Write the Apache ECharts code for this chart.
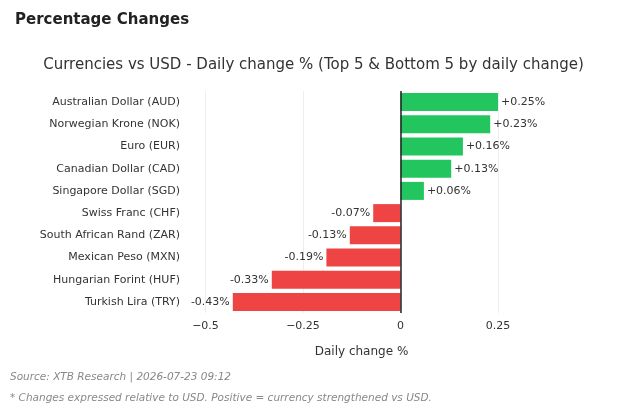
<!DOCTYPE html>
<html><head><meta charset="utf-8">
<script src="https://cdn.jsdelivr.net/npm/echarts@6/dist/echarts.min.js"></script>
<style>html,body{margin:0;padding:0;background:#fff;}#c{width:627px;height:415px;}</style>
</head><body><div id="c"></div>
<script>
const categories = ["Australian Dollar (AUD)","Norwegian Krone (NOK)","Euro (EUR)","Canadian Dollar (CAD)","Singapore Dollar (SGD)","Swiss Franc (CHF)","South African Rand (ZAR)","Mexican Peso (MXN)","Hungarian Forint (HUF)","Turkish Lira (TRY)"];
const values = [0.25,0.23,0.16,0.13,0.06,-0.07,-0.13,-0.19,-0.33,-0.43];
const tickValues = [-0.5,-0.25,0,0.25];
const chart = echarts.init(document.getElementById('c'));
const font = "'DejaVu Sans', Verdana, sans-serif";
chart.setOption({
  animation:false,
  textStyle:{fontFamily:font},
  title:[
    {text:"Percentage Changes",left:10,top:8,textStyle:{fontSize:15,fontWeight:'bold',color:'#222',fontFamily:font}},
    {text:"Currencies vs USD - Daily change % (Top 5 & Bottom 5 by daily change)",left:'center',top:53,textStyle:{fontSize:15,fontWeight:'normal',color:'#333',fontFamily:font}}
  ],
  graphic:[
    {type:'text',left:10,top:372,style:{text:"Source: XTB Research | 2026-07-23 09:12",fill:'#888',fontSize:10.5,fontStyle:'italic',fontFamily:font}},
    {type:'text',left:10,top:393,style:{text:"* Changes expressed relative to USD. Positive = currency strengthened vs USD.",fill:'#888',fontSize:10.5,fontStyle:'italic',fontFamily:font}}
  ],
  grid:{left:186,right:90,top:91,bottom:102},
  xAxis:{type:'value',min:-0.55,max:0.35,
    name:'Daily change %',nameLocation:'middle',nameGap:33,nameTextStyle:{fontSize:12,color:'#333'},
    axisLine:{show:false},axisTick:{show:false,customValues:tickValues},
    axisLabel:{customValues:tickValues,color:'#333',fontSize:11,formatter:v=>v===0?'0':String(v).replace('-','\u2212')},
    splitLine:{show:true,lineStyle:{color:'#eee'}}
  },
  yAxis:{type:'category',data:categories,inverse:true,
    axisLine:{show:false},axisTick:{show:false},
    axisLabel:{color:'#333',fontSize:11,margin:6}},
  series:[{type:'bar',barWidth:18,
    data:values.map(v=>({value:v,itemStyle:{color:v>=0?'#22c55e':'#ef4444'},
      label:{show:true,position:v>=0?'right':'left',distance:3,color:'#333',fontSize:11,
        formatter:(v>=0?'+':'')+v.toFixed(2)+'%'}})),
    markLine:{silent:true,symbol:'none',label:{show:false},lineStyle:{color:'#222',width:1.5,type:'solid'},data:[{xAxis:0}]}
  }]
});
</script></body></html>
